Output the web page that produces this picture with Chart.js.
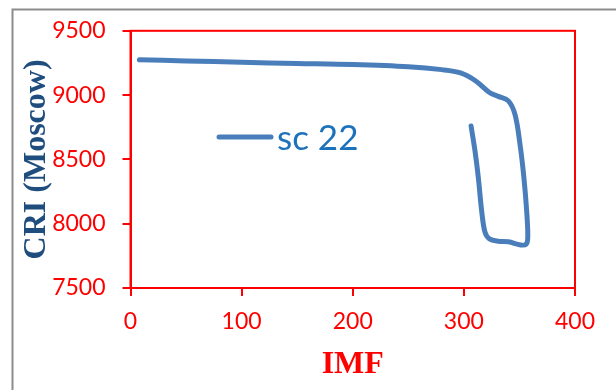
<!DOCTYPE html>
<html>
<head>
<meta charset="utf-8">
<script src="https://cdn.jsdelivr.net/npm/chart.js@4/dist/chart.umd.min.js"></script>
<style>
    html, body { margin: 0; padding: 0; background: #ffffff; }
    #wrap { width: 616px; height: 390px; }
</style>
</head>
<body>
<div id="wrap"><canvas id="criChart" width="616" height="390"></canvas></div>
<script>
// values
var seriesName = 'sc 22';
var imfValues = [8, 50, 100, 150, 200, 250, 280, 297, 311, 323, 331, 340, 346, 350.5, 354, 356.5, 357.5, 356, 351, 340, 331, 323, 319, 316, 313, 310, 306.5];
var criValues = [9275, 9266, 9255, 9246, 9237, 9220, 9198, 9172, 9108, 9020, 8990, 8955, 8850, 8618, 8360, 8100, 7895, 7840, 7835, 7860, 7864, 7882, 7934, 8100, 8360, 8566, 8759];
var xTicks = [0, 100, 200, 300, 400];
var yTicks = [7500, 8000, 8500, 9000, 9500];

var points = [];
for (var i = 0; i < imfValues.length; i++) {
    points.push({x: imfValues[i], y: criValues[i]});
}

// grey outer frame + red plot box + legend inside the plot
var framePlugin = {
    id: 'frame',
    beforeDraw: function (chart) {
        var ctx = chart.ctx;
        ctx.save();
        ctx.fillStyle = '#ffffff';
        ctx.fillRect(0, 0, chart.width, chart.height);
        ctx.strokeStyle = '#8c8c8c';
        ctx.lineWidth = 2;
        ctx.strokeRect(12.5, 9.5, 700, 500);
        ctx.restore();
    },
    afterDraw: function (chart) {
        var ctx = chart.ctx;
        var a = chart.chartArea;
        ctx.save();
        ctx.strokeStyle = '#ff0000';
        ctx.lineWidth = 2;
        ctx.strokeRect(a.left, a.top, a.right - a.left, a.bottom - a.top);

        // legend
        var ds = chart.data.datasets[0];
        ctx.strokeStyle = ds.borderColor;
        ctx.lineWidth = 5;
        ctx.lineCap = 'round';
        ctx.beginPath();
        ctx.moveTo(219, 137);
        ctx.lineTo(271, 137);
        ctx.stroke();
        ctx.fillStyle = '#1c72bb';
        ctx.font = '35px Lato';
        ctx.textBaseline = 'alphabetic';
        ctx.fillText(ds.label, 277, 150);
        ctx.restore();
    }
};

function plainNumber(v) {
    return String(v);
}

new Chart(document.getElementById('criChart'), {
    type: 'scatter',
    data: {
        datasets: [{
            label: seriesName,
            data: points,
            showLine: true,
            borderColor: '#4a7ebb',
            borderWidth: 5,
            borderCapStyle: 'round',
            borderJoinStyle: 'round',
            pointRadius: 0,
            tension: 0.35
        }]
    },
    options: {
        responsive: false,
        animation: false,
        layout: {padding: {top: 29, right: 41, bottom: 0, left: 0}},
        plugins: {
            legend: {display: false},
            tooltip: {enabled: false}
        },
        scales: {
            x: {
                type: 'linear',
                min: 0,
                max: 400,
                afterBuildTicks: function (scale) {
                    scale.ticks = xTicks.map(function (v) { return {value: v}; });
                },
                afterFit: function (scale) { scale.height = 102; },
                grid: {drawOnChartArea: false, drawTicks: true, tickLength: 8, color: '#ff0000', lineWidth: 2},
                border: {display: true, color: '#ff0000', width: 2},
                ticks: {color: '#ff0000', font: {family: 'Lato', size: 23}, padding: 12, callback: plainNumber},
                title: {
                    display: true,
                    text: 'IMF',
                    color: '#ff0000',
                    font: {family: 'Liberation Serif', size: 32, weight: 'bold'},
                    padding: {top: 0, bottom: 6}
                }
            },
            y: {
                type: 'linear',
                min: 7500,
                max: 9500,
                afterBuildTicks: function (scale) {
                    scale.ticks = yTicks.map(function (v) { return {value: v}; });
                },
                afterFit: function (scale) { scale.width = 130.5; },
                grid: {drawOnChartArea: false, drawTicks: true, tickLength: 8, color: '#ff0000', lineWidth: 2},
                border: {display: true, color: '#ff0000', width: 2},
                ticks: {color: '#ff0000', font: {family: 'Lato', size: 23}, padding: 17, callback: plainNumber},
                title: {
                    display: true,
                    text: 'CRI (Moscow)',
                    color: '#1f4e7e',
                    font: {family: 'Liberation Serif', size: 32, weight: 'bold'},
                    padding: {top: 18, bottom: 0}
                }
            }
        }
    },
    plugins: [framePlugin]
});
</script>
</body>
</html>
